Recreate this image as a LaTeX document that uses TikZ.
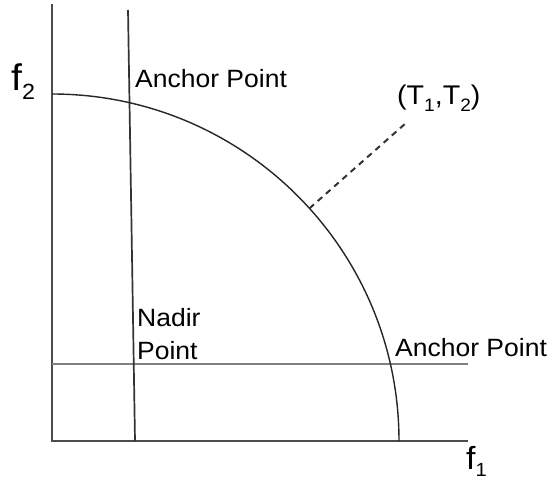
\documentclass[tikz,border=0pt]{standalone}
\usepackage{fontspec}
\setmainfont[FakeStretch=1.06]{Liberation Sans}
\usetikzlibrary{calc}
\begin{document}
\begin{tikzpicture}[x=1pt,y=1pt,
  axisline/.style={draw=black!70,line width=2pt},
  guideline/.style={draw=black!50,line width=2pt},
  frontline/.style={draw=black!85,line width=1.4pt},
  dashline/.style={draw=black!80,line width=2pt,dash pattern=on 6pt off 5pt},
  lbl/.style={inner sep=0pt,anchor=base west,font=\fontsize{25}{30}\selectfont}]
\useasboundingbox (0,0) rectangle (551,482);
% named points
\coordinate (O) at (52,41);
\coordinate (ytop) at (52,478);
\coordinate (xend) at (468,41);
\coordinate (vtop) at (128,472);
\coordinate (vbot) at (135,41);
\coordinate (hl) at (52,118);
\coordinate (hr) at (468,118);
\coordinate (astart) at (52,388);
\coordinate (T) at ($(O)+(42.1:347)$);
\coordinate (tend) at (406,359);
% lines
\draw[axisline] (ytop) -- (O) -- (xend);
\draw[guideline] (hl) -- (hr);
\draw[draw=black!80,line width=1.7pt] (vtop) -- (vbot);
\draw[frontline] (astart) arc[start angle=90,end angle=0,radius=347];
\draw[dashline] (T) -- (tend);
% labels
\node[lbl] (a1) at (135,394) {Anchor Point};
\node[lbl] (a2) at (395,125) {Anchor Point};
\node[lbl] (n1) at (137,155) {Nadir};
\node[lbl] (n2) at (137,122) {Point};
\node[lbl,font=\fontsize{27}{30}\selectfont] (t) at (397,377) {(T\raisebox{-7pt}{\fontsize{18}{18}\selectfont 1},T\raisebox{-7pt}{\fontsize{18}{18}\selectfont 2})};
\node[lbl,font=\fontsize{37}{40}\selectfont] (f2) at (11,391) {f\raisebox{-9pt}{\fontsize{22}{22}\selectfont 2}};
\node[lbl,font=\fontsize{32}{36}\selectfont] (f1) at (466,13) {f\raisebox{-7pt}{\fontsize{19}{19}\selectfont 1}};
\end{tikzpicture}
\end{document}
